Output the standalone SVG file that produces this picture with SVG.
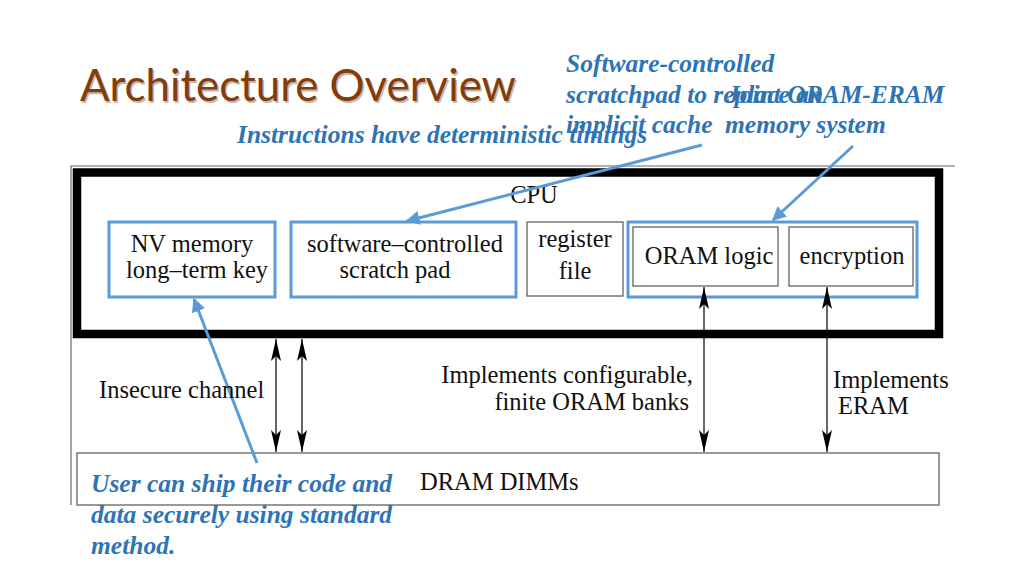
<svg xmlns="http://www.w3.org/2000/svg" width="1024" height="576" viewBox="0 0 1024 576">
<defs>
<style>
.t{font-size:24.5px;fill:#111}
.b{font-size:25.5px;font-weight:bold;font-style:italic;fill:#2E74B5}
.blue{fill:none;stroke:#5B9BD5;stroke-width:3}
.gray{fill:#fff;stroke:#555;stroke-width:1.2}
.ar{stroke:#000;stroke-width:1.2;fill:none}
.bl{stroke:#5B9BD5;stroke-width:3;fill:none}
</style>
<marker id="ab" viewBox="0 0 10 10" refX="9" refY="5" markerWidth="14" markerHeight="14" markerUnits="userSpaceOnUse" orient="auto">
<path d="M0,0 L10,5 L0,10 Z" fill="#5B9BD5"/>
</marker>
<marker id="hd" viewBox="0 0 22 10" refX="22" refY="5" markerWidth="22" markerHeight="10" markerUnits="userSpaceOnUse" orient="auto-start-reverse">
<path d="M0,0 L22,5 L0,10 L5,5 Z" fill="#000"/>
</marker>
</defs>
<rect width="1024" height="576" fill="#fff"/>
<g font-family="Lato, Open Sans, sans-serif">
<text x="80" y="101" font-size="44" fill="#c9b8a8" textLength="436" lengthAdjust="spacingAndGlyphs" transform="translate(1.5,1.5)">Architecture Overview</text>
<text x="80" y="101" font-size="44" fill="#843C0C" textLength="436" lengthAdjust="spacingAndGlyphs">Architecture Overview</text>
</g>
<g id="frame">
<path d="M71,505 L71,166 L955,166" fill="none" stroke="#666" stroke-width="1.2"/>
</g>
<g font-family="Liberation Serif, Times New Roman, serif">
<g id="cpu">
<rect x="77" y="172.5" width="862" height="161.5" fill="#fff" stroke="#000" stroke-width="8.5"/>
<text class="t" x="534" y="203" text-anchor="middle">CPU</text>
</g>
<g id="nv">
<rect class="blue" x="109" y="222" width="166" height="75"/>
<text class="t" x="192" y="252" text-anchor="middle">NV memory</text>
<text class="t" x="197" y="278" text-anchor="middle">long–term key</text>
</g>
<g id="scratch">
<rect class="blue" x="291" y="222" width="225" height="75"/>
<text class="t" x="405" y="252" text-anchor="middle">software–controlled</text>
<text class="t" x="395" y="278" text-anchor="middle">scratch pad</text>
</g>
<g id="regfile">
<rect class="gray" x="527" y="222" width="96" height="74"/>
<text class="t" x="575" y="247" text-anchor="middle">register</text>
<text class="t" x="575" y="279" text-anchor="middle">file</text>
</g>
<g id="oram-group">
<rect class="blue" x="628" y="222" width="289" height="75"/>
</g>
<g id="oram">
<rect class="gray" x="633" y="227" width="145" height="59"/>
<text class="t" x="709" y="264" text-anchor="middle">ORAM logic</text>
</g>
<g id="enc">
<rect class="gray" x="789" y="227" width="124" height="59"/>
<text class="t" x="852" y="264" text-anchor="middle">encryption</text>
</g>
<g id="dram">
<rect class="gray" x="77" y="453" width="862" height="52"/>
<text class="t" x="420" y="490">DRAM DIMMs</text>
</g>
<g id="connectors">
<line class="ar" x1="276" y1="339" x2="276" y2="452" marker-start="url(#hd)" marker-end="url(#hd)"/>
<line class="ar" x1="302" y1="339" x2="302" y2="452" marker-start="url(#hd)" marker-end="url(#hd)"/>
<line class="ar" x1="704" y1="287" x2="704" y2="452" marker-start="url(#hd)" marker-end="url(#hd)"/>
<line class="ar" x1="827" y1="287" x2="827" y2="452" marker-start="url(#hd)" marker-end="url(#hd)"/>
<line class="bl" x1="702" y1="145" x2="407" y2="221" marker-end="url(#ab)"/>
<line class="bl" x1="853" y1="146" x2="773" y2="220" marker-end="url(#ab)"/>
<line class="bl" x1="257" y1="463" x2="194" y2="299" marker-end="url(#ab)"/>
</g>
<g id="labels">
<text class="t" x="99" y="398">Insecure channel</text>
<text class="t" x="693" y="383" text-anchor="end">Implements configurable,</text>
<text class="t" x="689" y="410" text-anchor="end">finite ORAM banks</text>
<text class="t" x="833" y="388">Implements</text>
<text class="t" x="838" y="414">ERAM</text>
</g>
<g id="notes">
<text class="b" x="237" y="143">Instructions have deterministic timings</text>
<text class="b" x="566" y="72">Software-controlled</text>
<text class="b" x="566" y="103">scratchpad to replace an</text>
<text class="b" x="566" y="133">implicit cache</text>
<text class="b" x="727" y="103">Joint ORAM-ERAM</text>
<text class="b" x="725" y="133">memory system</text>
<text class="b" x="91" y="492">User can ship their code and</text>
<text class="b" x="91" y="523">data securely using standard</text>
<text class="b" x="91" y="554">method.</text>
</g>
</g>
</svg>
